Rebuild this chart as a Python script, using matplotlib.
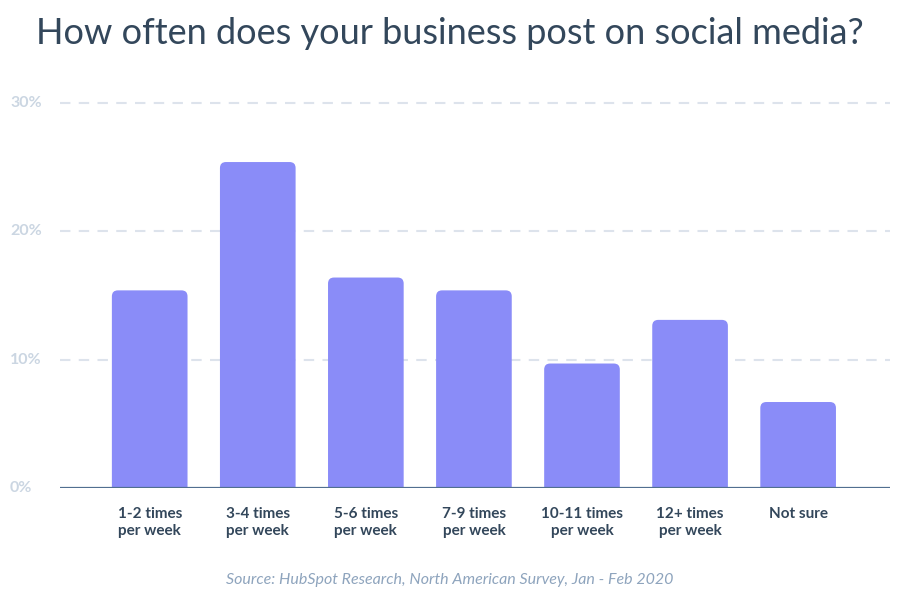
import matplotlib
matplotlib.use("Agg")
import matplotlib.pyplot as plt
from matplotlib.patches import FancyBboxPatch
from matplotlib.transforms import blended_transform_factory

categories = ["1-2 times\nper week", "3-4 times\nper week", "5-6 times\nper week",
              "7-9 times\nper week", "10-11 times\nper week", "12+ times\nper week", "Not sure"]
values = [15.4, 25.4, 16.4, 15.4, 9.7, 13.1, 6.7]
yticks = [0, 10, 20, 30]
ytick_labels = ["0%", "10%", "20%", "30%"]

title = "How often does your business post on social media?"
source = "Source: HubSpot Research, North American Survey, Jan - Feb 2020"

plt.rcParams['font.family'] = ['Lato', 'DejaVu Sans']

W, H = 909, 610
fig = plt.figure(figsize=(W/100, H/100), dpi=100)
left_px, right_px = 60, 890
bottom_px, top_px = 488, 103
ymax = 30
ax = fig.add_axes([left_px/W, 1-bottom_px/H, (right_px-left_px)/W, (bottom_px-top_px)/H])
ax.set_xlim(-0.83, len(values)-1+0.85)
ax.set_ylim(0, ymax)

bar_color = "#8a8cf8"
bw = 0.70
px_per_x = (right_px-left_px)/(len(values)-1+0.85+0.83)
px_per_y = (bottom_px-top_px)/ymax
aspect = px_per_x/px_per_y
r = 6/px_per_x
for i, v in enumerate(values):
    p = FancyBboxPatch((i-bw/2, -2), bw, v+2,
                       boxstyle=f"round,pad=0,rounding_size={r}",
                       mutation_aspect=aspect, fc=bar_color, ec="none", zorder=3)
    ax.add_patch(p)

for t in yticks[1:]:
    ax.axhline(t, color="#dde3ec", lw=1.5, ls=(0, (5, 4)), zorder=1, clip_on=False)
ax.axhline(0, color="#516f90", lw=1.6, zorder=4)

for s in ax.spines.values():
    s.set_visible(False)
ax.set_yticks([])
tr = blended_transform_factory(fig.transFigure, ax.transData)
for t, lab in zip(yticks, ytick_labels):
    fig.text(10/W, t, lab, transform=tr, ha="left", va="center",
             color="#cbd6e2", fontsize=11.5, fontweight="bold")
ax.set_xticks(range(len(values)))
ax.set_xticklabels(categories, color="#33475b", fontsize=11, fontweight="bold", linespacing=1.25)
ax.tick_params(axis="x", length=0, pad=14)

fig.text(450/W, 1-33/H, title, ha="center", va="center", fontsize=26, color="#33475b")
fig.text(450/W, 1-580/H, source, ha="center", va="center", fontsize=11.5, color="#8ea4bd", style="italic")

fig.savefig("out.png", dpi=100)
